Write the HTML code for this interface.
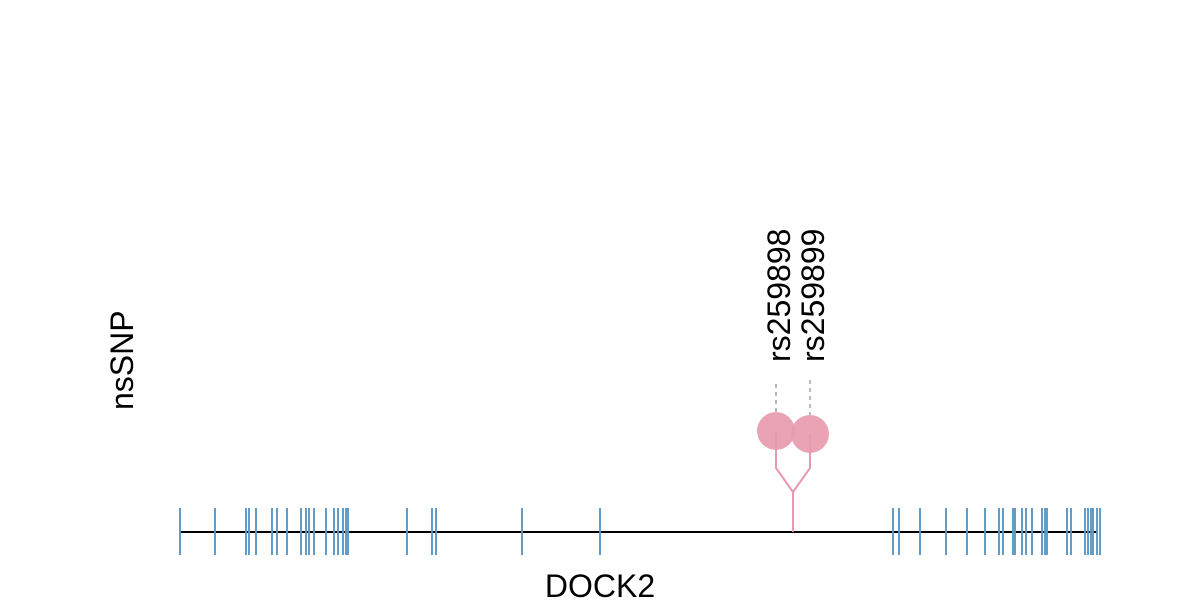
<!DOCTYPE html>
<html><head><meta charset="utf-8"><style>body{margin:0;background:#fff}svg{display:block}</style></head>
<body>
<svg width="1200" height="600" xmlns="http://www.w3.org/2000/svg" font-family="Liberation Sans, Arial, sans-serif">
<line x1="180" y1="532" x2="1097" y2="532" stroke="#000" stroke-width="2"/>
<g stroke="#5b97c4" stroke-width="2" opacity="0.95">
<path d="M180 508V555M215 508V555M246 508V555M249 508V555M256 508V555M272 508V555M277 508V555M287 508V555M301 508V555M306 508V555M309 508V555M314 508V555M326 508V555M334 508V555M338 508V555M343 508V555M346 508V555M348 508V555M407 508V555M432 508V555M436 508V555M522 508V555M600 508V555"/>
<path d="M893 508V555M899 508V555M920 508V555M946 508V555M967 508V555M985 508V555M999 508V555M1003 508V555M1013 508V555M1015 508V555M1022 508V555M1026 508V555M1032 508V555M1042 508V555M1045 508V555M1047 508V555M1067 508V555M1071 508V555M1085 508V555M1088 508V555M1091 508V555M1093 508V555M1097 508V555M1100 508V555"/>
</g>
<g stroke="#bbb" stroke-width="2" stroke-dasharray="4,4">
<line x1="776" y1="384" x2="776" y2="412"/>
<line x1="810" y1="380" x2="810" y2="415"/>
</g>
<g stroke="#e899ad" stroke-width="2" fill="none">
<polyline points="776,431 776,468 793,492 793,532"/>
<polyline points="810,434 810,468 793,492"/>
</g>
<circle cx="776" cy="431" r="19" fill="#e899ad" opacity="0.9"/>
<circle cx="810" cy="434" r="19" fill="#e899ad" opacity="0.9"/>
<g font-size="32" fill="#000">
<text transform="translate(790,362) rotate(-90)">rs259898</text>
<text transform="translate(824,362) rotate(-90)">rs259899</text>
<text transform="translate(133,410) rotate(-90)">nsSNP</text>
<text x="600" y="597" text-anchor="middle">DOCK2</text>
</g>
</svg>
</body></html>
